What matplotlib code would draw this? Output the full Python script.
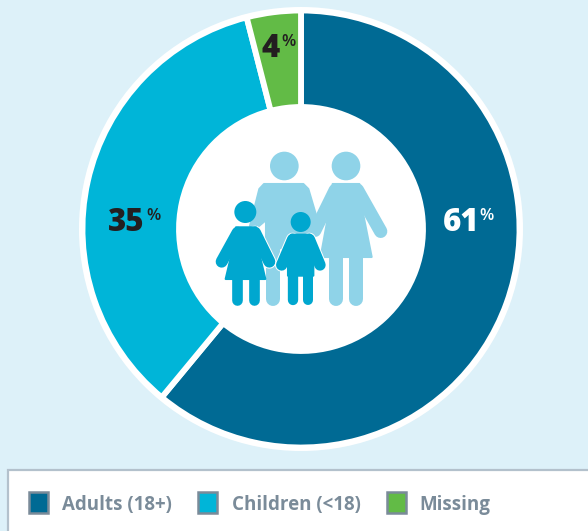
import matplotlib
matplotlib.use('Agg')
import matplotlib.pyplot as plt
import matplotlib.patches as patches

categories = ['Adults (18+)', 'Children (<18)', 'Missing']
values = [61, 35, 4]
colors = ['#006A94', '#00B5D8', '#62BB46']
label_colors = ['white', '#231F20', '#231F20']

W, H = 588, 531
LIGHT = '#8FD3E8'
DARK = '#00A7CF'
GREY = '#7A8B99'
FONT = 'Open Sans'


def yy(y):
    return H - y


def z(x, y):
    return (200 + x / 3, yy(140 + y / 3))


def lw(px_zoomed):
    # width in zoomed px -> points at dpi 100
    return px_zoomed / 3 * 0.72


def head(ax, x, y, r, c):
    cx, cy = z(x, y)
    ax.add_patch(patches.Circle((cx, cy), r / 3, fc=c, ec='none', zorder=5))


def poly(ax, pts, c, zorder=5):
    ax.add_patch(patches.Polygon([z(*p) for p in pts], closed=True, fc=c, ec=c, lw=1.5,
                                 joinstyle='round', zorder=zorder))


def limb(ax, a, b, width, c, zorder=5):
    p, q = z(*a), z(*b)
    ax.plot([p[0], q[0]], [p[1], q[1]], color=c, lw=lw(width), solid_capstyle='round', zorder=zorder)


def draw_family(ax):
    # man
    head(ax, 253, 78, 43, LIGHT)
    poly(ax, [(192, 132), (310, 132), (325, 147), (348, 225), (335, 290), (240, 325), (198, 325),
              (198, 240), (172, 262), (150, 258), (178, 147)], LIGHT)
    limb(ax, (219, 300), (219, 476), 42, LIGHT)
    # woman
    head(ax, 438, 78, 43, LIGHT)
    poly(ax, [(398, 132), (478, 132), (490, 225), (515, 351), (362, 351), (385, 225)], LIGHT)
    limb(ax, (405, 150), (345, 272), 38, LIGHT)
    limb(ax, (472, 150), (542, 274), 40, LIGHT)
    limb(ax, (408, 340), (408, 476), 42, LIGHT)
    limb(ax, (469, 340), (469, 476), 42, LIGHT)
    # girl
    limb(ax, (113, 278), (65, 365), 42, 'white', 6)
    limb(ax, (165, 278), (208, 365), 42, 'white', 6)
    head(ax, 136, 216, 33, DARK)
    poly(ax, [(108, 262), (168, 262), (180, 350), (196, 417), (77, 417), (93, 350)], DARK, 7)
    limb(ax, (113, 278), (65, 365), 36, DARK, 7)
    limb(ax, (165, 278), (208, 365), 36, DARK, 7)
    limb(ax, (112, 410), (112, 481), 32, DARK, 7)
    limb(ax, (161, 410), (161, 481), 32, DARK, 7)
    # boy
    limb(ax, (278, 298), (245, 375), 40, 'white', 8)
    limb(ax, (328, 298), (360, 375), 40, 'white', 8)
    head_c = z(302, 246)
    ax.add_patch(patches.Circle(head_c, 30 / 3, fc=DARK, ec='none', zorder=10))
    poly(ax, [(274, 284), (330, 284), (340, 300), (340, 407), (264, 407), (264, 300)], DARK, 9)
    limb(ax, (278, 298), (245, 375), 34, DARK, 9)
    limb(ax, (328, 298), (360, 375), 34, DARK, 9)
    limb(ax, (280, 400), (280, 481), 31, DARK, 9)
    limb(ax, (325, 400), (325, 481), 30, DARK, 9)


def main():
    fig = plt.figure(figsize=(W / 100, H / 100), dpi=100, facecolor='#DDF1F9')
    ax = fig.add_axes([0, 0, 1, 1])
    ax.set_xlim(0, W)
    ax.set_ylim(0, H)
    ax.axis('off')

    center = (301, yy(229))
    ax.add_patch(patches.Circle(center, 222, fc='white', ec='none', zorder=0))
    ax.pie(values, colors=colors, startangle=90, counterclock=False, center=center, radius=218.5,
           frame=False, wedgeprops={'width': 96.5, 'edgecolor': 'white', 'linewidth': 4.2})
    ax.set_xlim(0, W)
    ax.set_ylim(0, H)
    ax.set_aspect('auto')

    draw_family(ax)

    # value labels, number and small % sign are separate texts
    spots = [(443, 223), (108, 223), (261, 49)]
    pct_off = [(36.5, -7), (38, -7), (20, -7)]
    for v, c, (x, y), (dx, dy) in zip(values, label_colors, spots, pct_off):
        ax.text(x, yy(y), str(v), color=c, fontsize=22.5, fontweight='extra bold', family=FONT,
                ha='left', va='center', zorder=12)
        ax.text(x + dx, yy(y + dy), '%', color=c, fontsize=12, fontweight='semibold', family=FONT,
                ha='left', va='center', zorder=12)

    # legend box runs off the right and bottom edges
    ax.add_patch(patches.Rectangle((8, -10), W + 10, yy(470) + 10, fc='white', ec='#B3C1CC', lw=1.6, zorder=1))
    swatch_x = [29, 198, 387]
    text_x = [62, 232, 419]
    for name, col, sx, tx in zip(categories, colors, swatch_x, text_x):
        ax.add_patch(patches.Rectangle((sx, yy(513)), 19, 21, fc=col, ec=GREY, lw=1.8, zorder=3))
        ax.text(tx, yy(505), name, color=GREY, fontsize=13.5, fontweight='bold', family=FONT,
                ha='left', va='center', zorder=3)

    fig.savefig('out.png', dpi=100, facecolor=fig.get_facecolor())


if __name__ == "__main__":
    main()
